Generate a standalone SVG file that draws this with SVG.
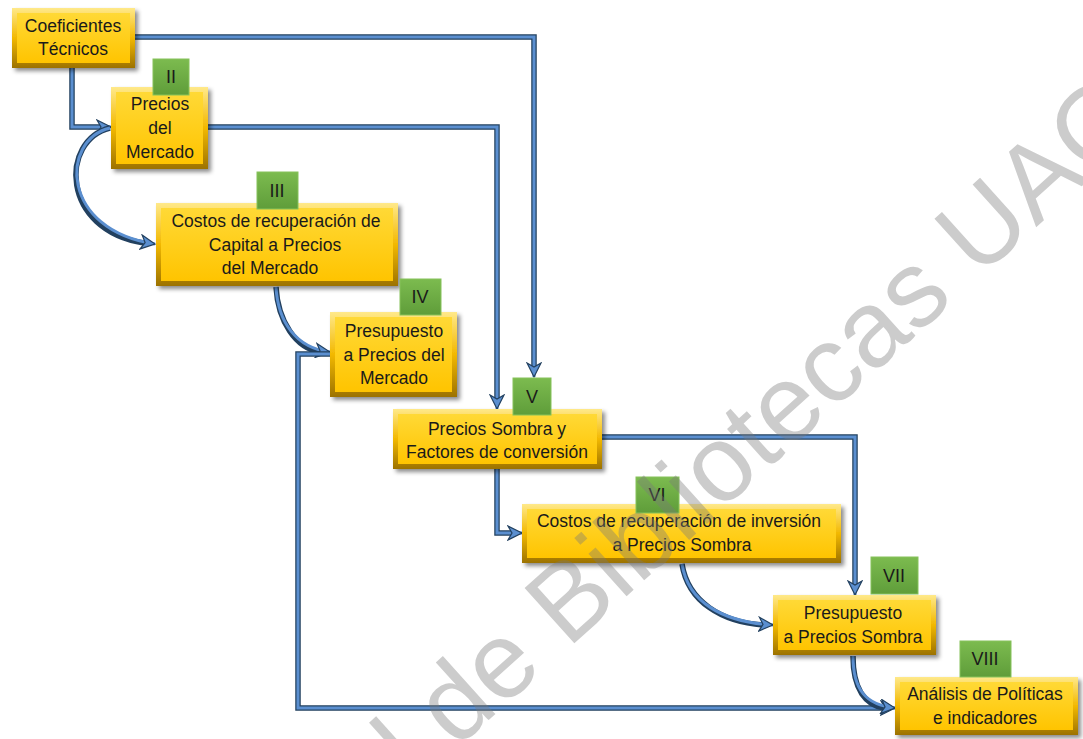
<svg xmlns="http://www.w3.org/2000/svg" width="1083" height="739" viewBox="0 0 1083 739">
  <style>
    .edge { fill: url(#edgeGrad); filter: url(#shadow); }
    .face { fill: url(#faceGrad); }
    .badge { fill: url(#badgeGrad); stroke: #86c25a; stroke-width: 1; }
    .lbl { font-family: "Liberation Sans", Arial, sans-serif; font-size: 17.5px; fill: #1a1a1a; text-anchor: middle; }
    .num { font-family: "Liberation Sans", Arial, sans-serif; font-size: 18px; fill: #1a1a1a; text-anchor: middle; }
    .wireDark { fill: none; stroke: #22405f; stroke-width: 5.5; stroke-linejoin: miter; }
    .wire { fill: none; stroke: #5b8fd0; stroke-width: 3; stroke-linejoin: miter; }
    .mark { font-family: "Liberation Sans", Arial, sans-serif; font-size: 108px; fill: #7a7a7a; opacity: 0.38; }
  </style>
  <defs>
    <linearGradient id="edgeGrad" x1="0" y1="0" x2="0" y2="1">
      <stop offset="0" stop-color="#ffe98a"/>
      <stop offset="0.5" stop-color="#f2b800"/>
      <stop offset="1" stop-color="#9c7200"/>
    </linearGradient>
    <linearGradient id="faceGrad" x1="0" y1="0" x2="0" y2="1">
      <stop offset="0" stop-color="#ffd936"/>
      <stop offset="1" stop-color="#ffc400"/>
    </linearGradient>
    <linearGradient id="badgeGrad" x1="0" y1="0" x2="0" y2="1">
      <stop offset="0" stop-color="#7cbb4f"/>
      <stop offset="1" stop-color="#5f9d3a"/>
    </linearGradient>
    <filter id="shadow" x="-10%" y="-10%" width="130%" height="140%">
      <feDropShadow dx="3" dy="3" stdDeviation="2" flood-color="#000" flood-opacity="0.45"/>
    </filter>
    <marker id="arrow" markerUnits="userSpaceOnUse" markerWidth="18" markerHeight="16" refX="15" refY="8" orient="auto">
      <path d="M1,1 L15,8 L1,15 L5,8 Z" fill="#5b8fd0" stroke="#22405f" stroke-width="1.2" stroke-linejoin="miter"/>
    </marker>
  </defs>

  <rect width="1083" height="739" fill="#ffffff"/>

  <!-- connectors: dark outline under a lighter core, arrowheads on the core -->
  <g id="connectors">
    <g id="c-coef-v">
      <path class="wireDark" d="M135,37 H534 V366"/>
      <path class="wire" d="M135,37 H534 V377" marker-end="url(#arrow)"/>
    </g>
    <g id="c-coef-ii">
      <path class="wireDark" d="M72,68 V127 H100"/>
      <path class="wire" d="M72,68 V127 H111" marker-end="url(#arrow)"/>
    </g>
    <g id="c-ii-iii">
      <path class="wireDark" d="M110,128 C60,140 60,230 144,243"/>
      <path class="wire" d="M110,128 C60,140 60,230 155,244" marker-end="url(#arrow)"/>
    </g>
    <g id="c-ii-v">
      <path class="wireDark" d="M208,127 H497 V398"/>
      <path class="wire" d="M208,127 H497 V409" marker-end="url(#arrow)"/>
    </g>
    <g id="c-iii-iv">
      <path class="wireDark" d="M276,287 C278,322 296,348 320,352"/>
      <path class="wire" d="M276,287 C278,322 296,348 330,352" marker-end="url(#arrow)"/>
    </g>
    <g id="c-iv-viii">
      <path class="wireDark" d="M330,354 H298 V708 H884"/>
      <path class="wire" d="M330,354 H298 V708 H895" marker-end="url(#arrow)"/>
    </g>
    <g id="c-v-vi">
      <path class="wireDark" d="M497,469 V533 H511"/>
      <path class="wire" d="M497,469 V533 H522" marker-end="url(#arrow)"/>
    </g>
    <g id="c-v-vii">
      <path class="wireDark" d="M602,437 H855 V584"/>
      <path class="wire" d="M602,437 H855 V595" marker-end="url(#arrow)"/>
    </g>
    <g id="c-vi-vii">
      <path class="wireDark" d="M682,564 C688,602 722,622 763,625"/>
      <path class="wire" d="M682,564 C688,602 722,622 773,625" marker-end="url(#arrow)"/>
    </g>
    <g id="c-vii-viii">
      <path class="wireDark" d="M853,656 C853,690 866,705 884,708"/>
      <path class="wire" d="M853,656 C853,690 866,705 895,708" marker-end="url(#arrow)"/>
    </g>
  </g>

  <!-- process boxes -->
  <g id="n-coeficientes">
    <rect class="edge" x="12" y="8" width="123" height="60"/>
    <rect class="face" x="17" y="13" width="113" height="50"/>
    <text class="lbl" x="73" y="32">Coeficientes</text>
    <text class="lbl" x="73" y="55">Técnicos</text>
  </g>

  <g id="n-precios-mercado">
    <rect class="edge" x="111" y="87" width="97" height="82"/>
    <rect class="face" x="116" y="92" width="87" height="72"/>
    <rect class="badge" x="153" y="59" width="36" height="36"/>
    <text class="num" x="171" y="83">II</text>
    <text class="lbl" x="160" y="110">Precios</text>
    <text class="lbl" x="160" y="134">del</text>
    <text class="lbl" x="160" y="158">Mercado</text>
  </g>

  <g id="n-costos-capital">
    <rect class="edge" x="156" y="203" width="242" height="83"/>
    <rect class="face" x="161" y="208" width="232" height="73"/>
    <rect class="badge" x="257" y="172" width="41" height="37"/>
    <text class="num" x="277" y="197">III</text>
    <text class="lbl" x="276" y="227">Costos de recuperación de</text>
    <text class="lbl" x="275" y="251">Capital a Precios</text>
    <text class="lbl" x="270" y="274">del Mercado</text>
  </g>

  <g id="n-presupuesto-mercado">
    <rect class="edge" x="330" y="312" width="127" height="85"/>
    <rect class="face" x="335" y="317" width="117" height="75"/>
    <rect class="badge" x="400" y="279" width="41" height="36"/>
    <text class="num" x="420" y="303">IV</text>
    <text class="lbl" x="394" y="337">Presupuesto</text>
    <text class="lbl" x="394" y="361">a Precios del</text>
    <text class="lbl" x="394" y="384">Mercado</text>
  </g>

  <g id="n-precios-sombra">
    <rect class="edge" x="393" y="409" width="209" height="60"/>
    <rect class="face" x="398" y="414" width="199" height="50"/>
    <rect class="badge" x="513" y="378" width="38" height="37"/>
    <text class="num" x="532" y="403">V</text>
    <text class="lbl" x="497" y="435">Precios Sombra y</text>
    <text class="lbl" x="497" y="458">Factores de conversión</text>
  </g>

  <g id="n-costos-inversion">
    <rect class="edge" x="522" y="504" width="319" height="59"/>
    <rect class="face" x="527" y="509" width="309" height="49"/>
    <rect class="badge" x="636" y="477" width="43" height="36"/>
    <text class="num" x="657" y="501">VI</text>
    <text class="lbl" x="679" y="527">Costos de recuperación de inversión</text>
    <text class="lbl" x="682" y="551">a Precios Sombra</text>
  </g>

  <g id="n-presupuesto-sombra">
    <rect class="edge" x="773" y="595" width="163" height="60"/>
    <rect class="face" x="778" y="600" width="153" height="50"/>
    <rect class="badge" x="871" y="557" width="47" height="37"/>
    <text class="num" x="894" y="582">VII</text>
    <text class="lbl" x="853" y="619">Presupuesto</text>
    <text class="lbl" x="853" y="643">a Precios Sombra</text>
  </g>

  <g id="n-analisis">
    <rect class="edge" x="895" y="677" width="183" height="58"/>
    <rect class="face" x="900" y="682" width="173" height="48"/>
    <rect class="badge" x="960" y="641" width="51" height="36"/>
    <text class="num" x="985" y="665">VIII</text>
    <text class="lbl" x="985" y="700">Análisis de Políticas</text>
    <text class="lbl" x="985" y="724">e indicadores</text>
  </g>

  <!-- diagonal library stamp across the sheet -->
  <text class="mark" text-anchor="end" transform="translate(1152,123) rotate(-42)">General de Bibliotecas UAQ</text>
</svg>
